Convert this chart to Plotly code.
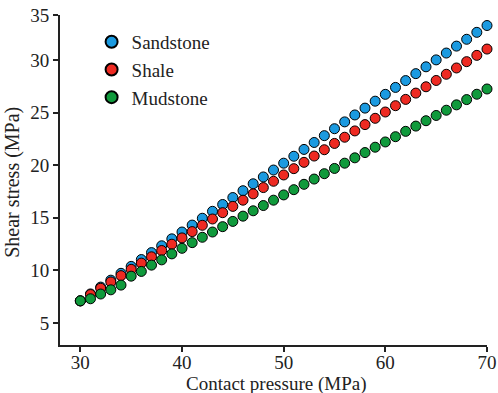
import plotly.graph_objects as go

contact_pressure = list(range(30, 71))

sandstone = [7.10, 7.76, 8.41, 9.07, 9.72, 10.38, 11.03, 11.69, 12.34, 13.00,
             13.65, 14.31, 14.96, 15.62, 16.27, 16.93, 17.58, 18.24, 18.89, 19.55,
             20.20, 20.86, 21.51, 22.17, 22.82, 23.48, 24.13, 24.79, 25.44, 26.10,
             26.75, 27.41, 28.06, 28.72, 29.37, 30.03, 30.68, 31.34, 31.99, 32.65,
             33.30]
shale = [7.10, 7.70, 8.30, 8.90, 9.50, 10.10, 10.69, 11.29, 11.89, 12.49,
         13.09, 13.69, 14.29, 14.89, 15.49, 16.09, 16.68, 17.28, 17.88, 18.48,
         19.08, 19.68, 20.28, 20.88, 21.48, 22.08, 22.67, 23.27, 23.87, 24.47,
         25.07, 25.67, 26.27, 26.87, 27.47, 28.07, 28.66, 29.26, 29.86, 30.46,
         31.06]
mudstone = [7.10, 7.30, 7.75, 8.15, 8.60, 9.45, 9.90, 10.50, 11.00, 11.57,
            12.10, 12.64, 13.15, 13.65, 14.16, 14.66, 15.16, 15.67, 16.17, 16.68,
            17.18, 17.68, 18.19, 18.69, 19.20, 19.70, 20.20, 20.71, 21.21, 21.72,
            22.22, 22.72, 23.23, 23.73, 24.24, 24.74, 25.24, 25.75, 26.25, 26.76,
            27.26]

series_names = ["Sandstone", "Shale", "Mudstone"]
series_colors = ["#1b9ae0", "#ee2a22", "#109a3c"]
x_ticks = [30, 40, 50, 60, 70]
y_ticks = [5, 10, 15, 20, 25, 30, 34.3]
y_tick_text = ["5", "10", "15", "20", "25", "30", "35"]
x_title = "Contact pressure (MPa)"
y_title = "Shear stress (MPa)"

FONT = "Liberation Serif, Times New Roman, serif"

fig = go.Figure()
for name, vals, col in zip(series_names, [sandstone, shale, mudstone], series_colors):
    fig.add_trace(go.Scatter(
        x=contact_pressure, y=vals, mode="markers", name=name,
        marker=dict(size=10, color=col, line=dict(color="black", width=1)),
        cliponaxis=False,
    ))

fig.update_layout(
    width=498, height=393,
    margin=dict(l=60, r=11, t=15, b=48),
    paper_bgcolor="white", plot_bgcolor="white",
    font=dict(family=FONT, size=19, color="#222"),
    showlegend=True,
    legend=dict(x=0.074, y=0.976, xanchor="left", yanchor="top",
                bgcolor="rgba(0,0,0,0)", font=dict(size=19, family=FONT),
                itemsizing="constant", tracegroupgap=0),
    annotations=[
        dict(text=x_title, xref="paper", yref="paper", x=0.507, y=-0.117,
             xanchor="center", yanchor="middle", showarrow=False,
             font=dict(size=19, family=FONT, color="#222")),
        dict(text=y_title, xref="paper", yref="paper", x=-0.112, y=0.492,
             xanchor="center", yanchor="middle", showarrow=False, textangle=-90,
             font=dict(size=20, family=FONT, color="#222")),
    ],
)
fig.update_xaxes(
    range=[28, 70], tickvals=x_ticks, showgrid=False, zeroline=False,
    showline=True, linecolor="#222", linewidth=2, automargin=False,
    ticks="outside", ticklen=5, tickwidth=1.5, tickcolor="#222",
    tickfont=dict(size=19), ticklabelstandoff=-6,
)
fig.update_yaxes(
    range=[2.9, 34.3], tickvals=y_ticks, ticktext=y_tick_text, showgrid=False,
    zeroline=False, showline=True, linecolor="#222", linewidth=2, automargin=False,
    ticks="outside", ticklen=5, tickwidth=1.5, tickcolor="#222",
    tickfont=dict(size=19),
)

fig.write_html("out.html", config={"displayModeBar": False},
               post_script="document.body.style.margin='0';")
